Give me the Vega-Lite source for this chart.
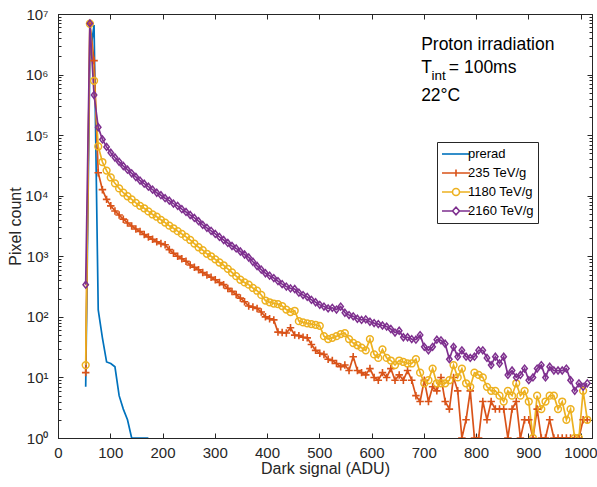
{
  "$schema": "https://vega.github.io/schema/vega-lite/v6.json",
  "width": 534,
  "height": 424,
  "autosize": {"type": "none"},
  "padding": {"left": 58, "top": 14, "right": 5, "bottom": 49},
  "background": "white",
  "config": {
    "view": {"stroke": "#262626", "strokeWidth": 1},
    "font": "Liberation Sans",
    "axis": {"domainColor": "#262626", "tickColor": "#262626", "labelColor": "#262626", "titleColor": "#262626", "labelFont": "Liberation Sans", "titleFont": "Liberation Sans", "labelFontSize": 15, "titleFontSize": 16, "titleFontWeight": "normal", "grid": false, "domainWidth": 1, "tickWidth": 1}
  },
  "datasets": {
    "h": [
      {"x":53,"p":7,"o":12,"y":16,"v":340},
      {"x":61,"p":2000000,"o":7000000,"y":6900000,"v":7000000},
      {"x":69,"p":6600000,"o":1700000,"y":790000,"v":460000},
      {"x":77,"p":130,"o":24000,"y":65000,"v":135000},
      {"x":85,"p":45,"o":12600,"y":36000,"v":85000},
      {"x":93,"p":18,"o":8700,"y":26000,"v":64000},
      {"x":101,"p":17,"o":6800,"y":20000,"v":51300},
      {"x":109,"p":15,"o":5600,"y":16000,"v":42700},
      {"x":117,"p":5,"o":4800,"y":13200,"v":36300},
      {"x":125,"p":3,"o":4100,"y":11200,"v":30900},
      {"x":133,"p":2,"o":3550,"y":9800,"v":26900},
      {"x":141,"p":1,"o":3160,"y":8700,"v":23400},
      {"x":149,"p":1,"o":2820,"y":7600,"v":20400},
      {"x":157,"p":1,"o":2570,"y":6800,"v":17800},
      {"x":165,"p":1,"o":2290,"y":6200,"v":15800},
      {"x":173,"p":1,"o":2090,"y":5500,"v":14100},
      {"x":181,"o":1910,"y":4900,"v":12600},
      {"x":189,"o":1740,"y":4500,"v":11200},
      {"x":197,"o":1620,"y":4000,"v":10200},
      {"x":205,"o":1550,"y":3600,"v":9100},
      {"x":213,"o":1290,"y":3200,"v":8300},
      {"x":221,"o":1120,"y":2900,"v":7400},
      {"x":229,"o":1000,"y":2600,"v":6800},
      {"x":237,"o":910,"y":2340,"v":6000},
      {"x":245,"o":830,"y":2090,"v":5400},
      {"x":253,"o":720,"y":1860,"v":4800},
      {"x":261,"o":660,"y":1620,"v":4300},
      {"x":269,"o":600,"y":1410,"v":3800},
      {"x":277,"o":540,"y":1260,"v":3300},
      {"x":285,"o":490,"y":1100,"v":2950},
      {"x":293,"o":450,"y":1000,"v":2630},
      {"x":301,"o":410,"y":890,"v":2340},
      {"x":309,"o":370,"y":790,"v":2090},
      {"x":317,"o":340,"y":710,"v":1860},
      {"x":325,"o":295,"y":620,"v":1660},
      {"x":333,"o":263,"y":540,"v":1480},
      {"x":341,"o":234,"y":470,"v":1350},
      {"x":349,"o":204,"y":410,"v":1200},
      {"x":357,"o":178,"y":370,"v":1070},
      {"x":365,"o":151,"y":340,"v":955},
      {"x":373,"o":145,"y":300,"v":813},
      {"x":381,"o":138,"y":270,"v":692},
      {"x":389,"o":120,"y":230,"v":603},
      {"x":397,"o":100,"y":186,"v":525},
      {"x":405,"o":93,"y":174,"v":479},
      {"x":413,"o":89,"y":166,"v":437},
      {"x":421,"o":56,"y":162,"v":389},
      {"x":429,"o":55,"y":151,"v":347},
      {"x":437,"o":54,"y":132,"v":316},
      {"x":445,"o":66,"y":120,"v":295},
      {"x":453,"o":50,"y":126,"v":288},
      {"x":461,"o":49,"y":85,"v":251},
      {"x":469,"o":46,"y":81,"v":229},
      {"x":477,"o":45,"y":78,"v":214},
      {"x":485,"o":35,"y":76,"v":191},
      {"x":493,"o":28,"y":74,"v":174},
      {"x":501,"o":25,"y":71,"v":158},
      {"x":509,"o":24,"y":48,"v":148},
      {"x":517,"o":20,"y":43,"v":138},
      {"x":525,"o":19,"y":45,"v":141},
      {"x":533,"o":17,"y":48,"v":132},
      {"x":541,"o":15,"y":52,"v":148},
      {"x":549,"o":16,"y":54,"v":117},
      {"x":557,"o":13,"y":43,"v":107},
      {"x":565,"o":22,"y":37,"v":102},
      {"x":573,"o":13,"y":34,"v":93},
      {"x":581,"o":12,"y":31,"v":89},
      {"x":589,"o":11,"y":28,"v":91},
      {"x":597,"o":14,"y":43,"v":83},
      {"x":605,"o":10,"y":24,"v":79},
      {"x":613,"o":9,"y":21,"v":76},
      {"x":621,"o":12,"y":29,"v":72},
      {"x":629,"o":10,"y":21,"v":69},
      {"x":637,"o":14,"y":19,"v":63},
      {"x":645,"o":9,"y":16,"v":55},
      {"x":653,"o":11,"y":19,"v":59},
      {"x":661,"o":9,"y":18,"v":46},
      {"x":669,"o":13,"y":17,"v":46},
      {"x":677,"o":9,"y":17,"v":43},
      {"x":685,"o":5,"y":20,"v":42},
      {"x":693,"o":4,"y":12,"v":50},
      {"x":701,"o":9,"y":8,"v":32},
      {"x":709,"o":4,"y":9,"v":28},
      {"x":717,"o":7,"y":14,"v":32},
      {"x":725,"o":6,"y":8,"v":42},
      {"x":733,"o":10,"y":8,"v":41},
      {"x":741,"o":4,"y":8,"v":36},
      {"x":749,"o":3,"y":9,"v":20},
      {"x":757,"o":10,"y":16,"v":32},
      {"x":765,"o":6,"y":10,"v":22},
      {"x":773,"o":1,"y":14,"v":28},
      {"x":781,"o":2,"y":8,"v":22},
      {"x":789,"o":6,"y":7,"v":21},
      {"x":797,"o":1,"y":12,"v":22},
      {"x":805,"o":1,"y":11,"v":28},
      {"x":813,"o":4,"y":10,"v":28},
      {"x":821,"o":2,"y":7,"v":21},
      {"x":829,"o":4,"y":6,"v":16},
      {"x":837,"o":3,"y":6,"v":22},
      {"x":845,"o":3,"y":5,"v":17},
      {"x":853,"o":3,"y":4,"v":22},
      {"x":861,"o":1,"y":6,"v":11},
      {"x":869,"o":3,"y":5,"v":13},
      {"x":877,"o":4,"y":8,"v":10},
      {"x":885,"o":1,"y":5,"v":11},
      {"x":893,"o":2,"y":6,"v":14},
      {"x":901,"o":2,"y":4,"v":9},
      {"x":909,"o":1,"y":1,"v":10},
      {"x":917,"o":3,"y":5,"v":14},
      {"x":925,"o":1,"y":3,"v":16},
      {"x":933,"o":1,"y":4,"v":10},
      {"x":941,"o":2,"y":5,"v":15},
      {"x":949,"o":1,"y":5,"v":13},
      {"x":957,"o":1,"y":3,"v":13},
      {"x":965,"o":1,"y":4,"v":13},
      {"x":973,"o":1,"y":2,"v":14},
      {"x":981,"o":1,"y":3,"v":9},
      {"x":989,"o":1,"y":1,"v":6},
      {"x":997,"o":1,"y":1,"v":8},
      {"x":1005,"o":2,"y":6,"v":7},
      {"x":1013,"o":2,"y":2,"v":8}
    ]
  },
  "layer": [
    {
      "data": {"name": "h"},
      "transform": [{"fold": ["p", "o", "y", "v"], "as": ["s", "n"]}, {"filter": "isValid(datum.n)"}],
      "mark": {"type": "line", "strokeWidth": 1.7, "clip": true},
      "encoding": {
        "x": {"field": "x", "type": "quantitative", "scale": {"domain": [0, 1022], "nice": false, "zero": false},
          "axis": {"orient": "bottom", "title": "Dark signal (ADU)", "format": "d", "values": [0,100,200,300,400,500,600,700,800,900,1000], "tickSize": -5, "labelPadding": 12, "labelFlush": false, "labelOverlap": false, "titlePadding": 0}},
        "y": {"field": "n", "type": "quantitative", "scale": {"type": "log", "domain": [1, 10000000], "nice": false},
          "axis": {"orient": "left", "title": "Pixel count", "labelOverlap": false, "labelPadding": 15, "titlePadding": 1,
            "values": [1,2,3,4,5,6,7,8,9,10,20,30,40,50,60,70,80,90,100,200,300,400,500,600,700,800,900,1000,2000,3000,4000,5000,6000,7000,8000,9000,10000,20000,30000,40000,50000,60000,70000,80000,90000,100000,200000,300000,400000,500000,600000,700000,800000,900000,1000000,2000000,3000000,4000000,5000000,6000000,7000000,8000000,9000000,10000000],
            "labelExpr": "abs(log(datum.value)/LN10 - round(log(datum.value)/LN10)) < 0.001 ? '10' + ['⁰','¹','²','³','⁴','⁵','⁶','⁷'][round(log(datum.value)/LN10)] : ''",
            "tickSize": {"condition": {"test": "abs(log(datum.value)/LN10 - round(log(datum.value)/LN10)) < 0.001", "value": -5}, "value": -3}}},
        "color": {"field": "s", "type": "nominal",
          "scale": {"domain": ["p", "o", "y", "v"], "range": ["#0072BD", "#D95319", "#EDB120", "#7E2F8E"]},
          "legend": {"orient": "none", "legendX": 379, "legendY": 128, "title": null,
            "labelExpr": "datum.value == 'p' ? 'prerad' : datum.value == 'o' ? '235 TeV/g' : datum.value == 'y' ? '1180 TeV/g' : '2160 TeV/g'",
            "labelFont": "Liberation Sans", "labelFontSize": 13, "labelColor": "#000000",
            "strokeColor": "#262626", "fillColor": "white", "padding": 4,
            "symbolSize": 196, "symbolStrokeWidth": 1.6, "symbolOffset": 7, "labelOffset": 4, "rowPadding": 4,
            "symbolType": "M-2,0H2",
            "encode": {"symbols": {"update": {
              "shape": {"signal": "datum.value == 'p' ? 'M-2,0H2' : datum.value == 'o' ? 'M-2,0H2M0,-0.5V0.5' : datum.value == 'y' ? 'M-2,0H-0.5A0.5,0.5 0 1,1 0.5,0A0.5,0.5 0 1,1 -0.5,0M0.5,0H2' : 'M-2,0H-0.5L0,-0.55L0.5,0L0,0.55L-0.5,0M0.5,0H2'"},
              "fill": {"value": "transparent"}}}}}}
      }
    },
    {
      "data": {"name": "h"},
      "transform": [{"filter": "isValid(datum.o)"}],
      "mark": {"type": "point", "shape": "M-1,0H1M0,-1V1", "size": 56, "filled": false, "strokeWidth": 1.6, "color": "#D95319", "opacity": 1, "clip": true},
      "encoding": {
        "x": {"field": "x", "type": "quantitative", "scale": {"domain": [0, 1022], "nice": false, "zero": false}, "axis": null},
        "y": {"field": "o", "type": "quantitative", "scale": {"type": "log", "domain": [1, 10000000], "nice": false}, "axis": null}
      }
    },
    {
      "data": {"name": "h"},
      "transform": [{"filter": "isValid(datum.y)"}],
      "mark": {"type": "point", "shape": "circle", "size": 46, "filled": false, "strokeWidth": 1.5, "color": "#EDB120", "opacity": 1, "clip": true},
      "encoding": {
        "x": {"field": "x", "type": "quantitative", "scale": {"domain": [0, 1022], "nice": false, "zero": false}, "axis": null},
        "y": {"field": "y", "type": "quantitative", "scale": {"type": "log", "domain": [1, 10000000], "nice": false}, "axis": null}
      }
    },
    {
      "data": {"name": "h"},
      "transform": [{"filter": "isValid(datum.v)"}],
      "mark": {"type": "point", "shape": "M0,-1.15L0.9,0L0,1.15L-0.9,0Z", "size": 36, "filled": false, "strokeWidth": 1.5, "color": "#7E2F8E", "opacity": 1, "clip": true},
      "encoding": {
        "x": {"field": "x", "type": "quantitative", "scale": {"domain": [0, 1022], "nice": false, "zero": false}, "axis": null},
        "y": {"field": "v", "type": "quantitative", "scale": {"type": "log", "domain": [1, 10000000], "nice": false}, "axis": null}
      }
    },
    {
      "data": {"values": [
        {"x": 695, "y": 2550000, "t": "Proton irradiation"},
        {"x": 695, "y": 1062000, "t": "T"},
        {"x": 748, "y": 1062000, "t": "= 100ms"},
        {"x": 695, "y": 360000, "t": "22°C"}
      ]},
      "mark": {"type": "text", "align": "left", "baseline": "alphabetic", "font": "Liberation Sans", "fontSize": 17.5, "color": "#000000"},
      "encoding": {
        "x": {"field": "x", "type": "quantitative", "scale": {"domain": [0, 1022], "nice": false, "zero": false},
          "axis": {"orient": "top", "title": null, "labels": false, "values": [0,100,200,300,400,500,600,700,800,900,1000], "tickSize": -5}},
        "y": {"field": "y", "type": "quantitative", "scale": {"type": "log", "domain": [1, 10000000], "nice": false},
          "axis": {"orient": "right", "title": null, "labels": false,
            "values": [1,2,3,4,5,6,7,8,9,10,20,30,40,50,60,70,80,90,100,200,300,400,500,600,700,800,900,1000,2000,3000,4000,5000,6000,7000,8000,9000,10000,20000,30000,40000,50000,60000,70000,80000,90000,100000,200000,300000,400000,500000,600000,700000,800000,900000,1000000,2000000,3000000,4000000,5000000,6000000,7000000,8000000,9000000,10000000],
            "tickSize": {"condition": {"test": "abs(log(datum.value)/LN10 - round(log(datum.value)/LN10)) < 0.001", "value": -5}, "value": -3}}},
        "text": {"field": "t"}
      }
    },
    {
      "data": {"values": [{"x": 715, "y": 814000, "t": "int"}]},
      "mark": {"type": "text", "align": "left", "baseline": "alphabetic", "font": "Liberation Sans", "fontSize": 13.5, "color": "#000000"},
      "encoding": {
        "x": {"field": "x", "type": "quantitative", "scale": {"domain": [0, 1022], "nice": false, "zero": false}, "axis": null},
        "y": {"field": "y", "type": "quantitative", "scale": {"type": "log", "domain": [1, 10000000], "nice": false}, "axis": null},
        "text": {"field": "t"}
      }
    }
  ],
  "resolve": {"axis": {"x": "independent", "y": "independent"}}
}
